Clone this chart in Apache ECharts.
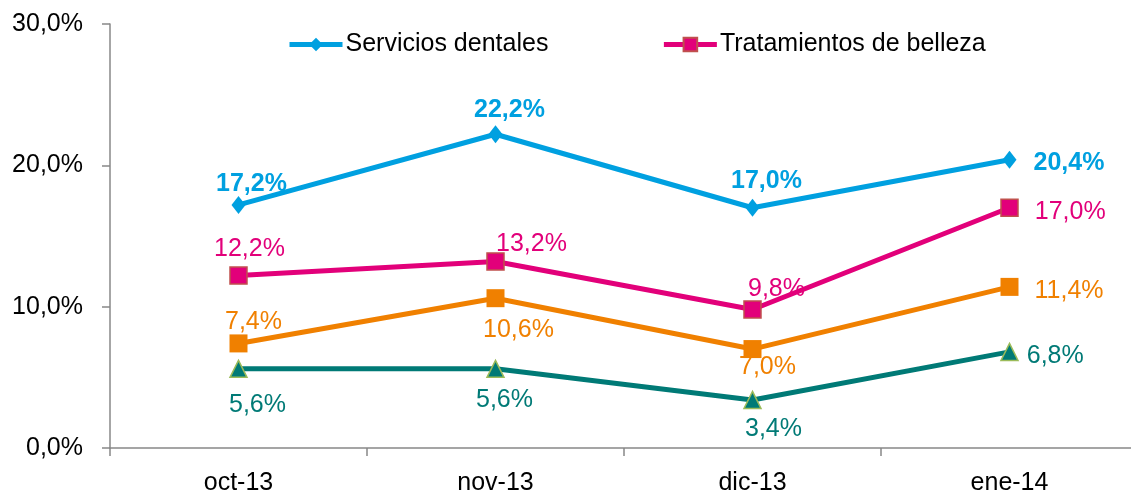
<!DOCTYPE html>
<html>
<head>
<meta charset="utf-8">
<script src="https://cdn.jsdelivr.net/npm/echarts@6/dist/echarts.min.js"></script>
<style>
	html, body { margin: 0; padding: 0; background: #fff; }
	#chart { width: 1131px; height: 493px; }
</style>
</head>
<body>
<div id="chart"></div>
<script>
	var months = [ 'oct-13', 'nov-13', 'dic-13', 'ene-14' ];
	var dentales = [ 17.2, 22.2, 17.0, 20.4 ];
	var belleza = [ 12.2, 13.2, 9.8, 17.0 ];
	var naranja = [ 7.4, 10.6, 7.0, 11.4 ];
	var verde = [ 5.6, 5.6, 3.4, 6.8 ];
	var yTicks = [ 0, 10, 20, 30 ];

	// posición de cada etiqueta: [posicion, dx, dy]
	var dentalesLbl = [ [ 'top', 13, 6 ], [ 'top', 14, 2 ], [ 'top', 14, 0 ], [ 'right', 0, 3 ] ];
	var bellezaLbl = [ [ 'top', 11, 0 ], [ 'top', 36, 9 ], [ 'top', 24, 6 ], [ 'right', 0, 4 ] ];
	var naranjaLbl = [ [ 'top', 15, 5 ], [ 'bottom', 23, 5 ], [ 'bottom', 15, -8 ], [ 'right', 0, 4 ] ];
	var verdeLbl = [ [ 'bottom', 19, 10 ], [ 'bottom', 9, 5 ], [ 'bottom', 21, 2 ], [ 'right', 0, 4 ] ];

	var FONT = 'Liberation Sans, Arial, sans-serif';

	var fmt = function(v) {
		return v.toFixed(1).replace('.', ',') + '%';
	};

	var buildData = function(values, labels, color, bold, rightDist) {
		var data = [];
		for (var i = 0; i < values.length; i++) {
			var l = labels[i];
			data.push({
				value : values[i],
				label : {
					show : true,
					position : l[0],
					offset : [ l[1], l[2] ],
					distance : l[0] == 'right' ? rightDist : 5,
					color : color,
					fontSize : 25,
					fontWeight : bold ? 'bold' : 'normal',
					fontFamily : FONT,
					formatter : function(p) {
						return fmt(p.value);
					}
				}
			});
		}
		return data;
	};

	var chart = echarts.init(document.getElementById('chart'));
	var options = {
		animation : false,
		textStyle : {
			fontFamily : FONT
		},
		legend : {
			data : [ 'Servicios dentales', 'Tratamientos de belleza' ],
			left : 287,
			top : 32,
			padding : 0,
			itemWidth : 53,
			itemHeight : 17,
			itemGap : 113,
			lineStyle : {
				width : 5
			},
			textStyle : {
				fontSize : 25,
				fontFamily : FONT,
				color : '#000',
				padding : [ 0, 0, 0, -2 ]
			}
		},
		grid : {
			left : 110,
			top : 24,
			width : 1028,
			height : 424,
			outerBoundsMode : 'none',
			containLabel : false
		},
		xAxis : {
			type : 'category',
			data : months,
			boundaryGap : true,
			axisLine : {
				lineStyle : {
					color : '#888',
					width : 1.5
				}
			},
			axisTick : {
				show : true,
				length : 8,
				lineStyle : {
					color : '#888',
					width : 1.5
				}
			},
			axisLabel : {
				fontSize : 25,
				color : '#000',
				margin : 23
			},
			splitLine : {
				show : false
			}
		},
		yAxis : {
			type : 'value',
			min : yTicks[0],
			max : yTicks[yTicks.length - 1],
			interval : 10,
			axisLine : {
				show : true,
				lineStyle : {
					color : '#888',
					width : 1.5
				}
			},
			axisTick : {
				show : true,
				length : 8,
				lineStyle : {
					color : '#888',
					width : 1.5
				}
			},
			axisLabel : {
				fontSize : 25,
				color : '#000',
				margin : 27,
				formatter : function(v) {
					return fmt(v);
				}
			},
			splitLine : {
				show : false
			}
		},
		series : [ {
			name : 'Servicios dentales',
			type : 'line',
			symbol : 'diamond',
			symbolSize : [ 14, 18 ],
			lineStyle : {
				color : '#00A0E0',
				width : 5
			},
			itemStyle : {
				color : '#00A0E0'
			},
			data : buildData(dentales, dentalesLbl, '#00A0E0', true, 17),
			z : 4
		}, {
			name : 'Tratamientos de belleza',
			type : 'line',
			symbol : 'rect',
			symbolSize : 17,
			lineStyle : {
				color : '#E2007A',
				width : 5
			},
			itemStyle : {
				color : '#E2007A',
				borderColor : '#C0504D',
				borderWidth : 1.5
			},
			data : buildData(belleza, bellezaLbl, '#E2007A', false, 16),
			z : 3
		}, {
			name : 'Otros',
			type : 'line',
			symbol : 'rect',
			symbolSize : 18,
			lineStyle : {
				color : '#F08000',
				width : 5
			},
			itemStyle : {
				color : '#F08000'
			},
			data : buildData(naranja, naranjaLbl, '#F08000', false, 16),
			z : 2
		}, {
			name : 'Resto',
			type : 'line',
			symbol : 'triangle',
			symbolSize : 17,
			lineStyle : {
				color : '#007A76',
				width : 5
			},
			itemStyle : {
				color : '#007A76',
				borderColor : '#9BBB59',
				borderWidth : 1.5
			},
			data : buildData(verde, verdeLbl, '#007A76', false, 8),
			z : 2
		} ]
	};
	chart.setOption(options);
</script>
</body>
</html>
